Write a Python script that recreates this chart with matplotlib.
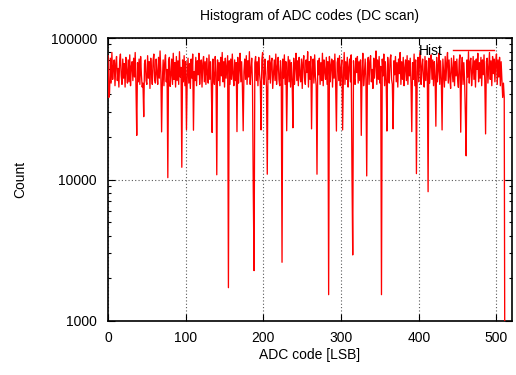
import matplotlib
matplotlib.use("Agg")
import matplotlib.pyplot as plt
from matplotlib.ticker import FixedLocator, LogLocator, NullFormatter

plt.rcParams['font.family'] = ['Liberation Sans', 'DejaVu Sans']
plt.rcParams['font.size'] = 10

title = "Histogram of ADC codes (DC scan)"
xlabel = "ADC code [LSB]"
ylabel = "Count"
series_name = "Hist"

codes = list(range(512))
counts = [
    75000, 38000, 41000, 72000, 48000, 79000, 51000, 63000, 70000, 46000, 66000, 74000, 50000, 61000, 45000, 69000,
    77000, 54000, 47000, 71000, 52000, 66000, 45000, 73000, 58000, 48000, 70000, 49000, 76000, 46000, 63000, 68000,
    50000, 72000, 53000, 79000, 46000, 20500, 67000, 49000, 71000, 47000, 74000, 55000, 45000, 48000, 27800, 66000,
    70000, 50000, 47000, 75000, 52000, 68000, 44000, 72000, 57000, 47000, 69000, 77000, 51000, 48000, 71000, 56000,
    47000, 73000, 52000, 81000, 58000, 21700, 50000, 70000, 46000, 67000, 76000, 49000, 60000, 10300, 69000, 73000,
    45500, 55000, 71000, 47000, 78000, 51000, 67000, 45000, 74000, 50000, 69000, 47000, 80000, 53000, 62000, 12200,
    70000, 49000, 75000, 46000, 68000, 22500, 54000, 72000, 48000, 66000, 44000, 71000, 52000, 77000, 22300, 58000,
    50000, 73000, 46000, 69000, 55000, 78000, 47000, 62000, 70000, 45000, 66000, 74000, 49000, 68000, 47000, 72000,
    56000, 48000, 76000, 51000, 68000, 46000, 21500, 71000, 52000, 47000, 74000, 57000, 10800, 70000, 50000, 67000,
    46000, 73000, 54000, 79000, 49000, 68000, 45000, 72000, 52000, 63000, 75000, 1720, 69000, 47000, 71000, 51000,
    77000, 55000, 46000, 70000, 50000, 67000, 21800, 73000, 48000, 60000, 78000, 49000, 68000, 45000, 22100, 58000,
    71000, 51000, 75000, 47000, 69000, 53000, 80000, 47000, 60000, 72000, 46000, 8300, 2270, 67000, 74000, 50000,
    68000, 46000, 73000, 56000, 49000, 22400, 70000, 79000, 52000, 47000, 71000, 58000, 45000, 10900, 69000, 51000,
    75000, 48000, 67000, 72000, 44000, 55000, 70000, 50000, 77000, 47000, 62000, 73000, 51000, 46000, 69000, 57000,
    2600, 71000, 52000, 76000, 47000, 68000, 22100, 54000, 74000, 49000, 70000, 45000, 67000, 51000, 23200, 72000,
    47000, 63000, 78000, 50000, 69000, 46000, 73000, 55000, 49000, 71000, 44000, 67000, 75000, 52000, 47000, 70000,
    57000, 80000, 45000, 68000, 51000, 74000, 22800, 60000, 71000, 48000, 76000, 53000, 46000, 10900, 69000, 55000,
    72000, 47000, 67000, 50000, 78000, 46000, 70000, 58000, 51000, 73000, 47000, 68000, 1535, 74000, 49000, 64000,
    71000, 45000, 69000, 52000, 77000, 48000, 22000, 67000, 72000, 50000, 75000, 46000, 61000, 70000, 22400, 54000,
    79000, 47000, 68000, 51000, 73000, 45000, 62000, 71000, 49000, 76000, 11700, 2930, 69000, 52000, 47000, 72000,
    57000, 74000, 48000, 68000, 50000, 70000, 20500, 59000, 78000, 46000, 55000, 71000, 51000, 10600, 67000, 73000,
    47000, 69000, 75000, 49000, 60000, 44000, 72000, 52000, 67000, 81000, 47000, 70000, 51000, 74000, 48000, 63000,
    1535, 71000, 54000, 77000, 46000, 68000, 50000, 22000, 73000, 57000, 48000, 70000, 76000, 51000, 47000, 22800,
    69000, 55000, 74000, 49000, 67000, 45000, 71000, 56000, 79000, 47000, 68000, 51000, 73000, 46000, 61000, 70000,
    50000, 75000, 47000, 69000, 54000, 72000, 48000, 21800, 67000, 51000, 77000, 46000, 70000, 11000, 58000, 73000,
    49000, 68000, 80000, 47000, 62000, 71000, 52000, 45000, 74000, 50000, 69000, 56000, 8200, 72000, 48000, 67000,
    76000, 51000, 70000, 46000, 68000, 54000, 23800, 73000, 49000, 60000, 78000, 47000, 69000, 52000, 22400, 71000,
    56000, 45000, 74000, 50000, 67000, 79000, 48000, 70000, 53000, 44000, 72000, 59000, 49000, 75000, 46000, 68000,
    54000, 71000, 51000, 44800, 69000, 76000, 21600, 58000, 73000, 47000, 67000, 50000, 28500, 14700, 70000, 53000,
    80000, 48000, 68000, 72000, 46000, 57000, 74000, 51000, 69000, 45000, 71000, 60000, 78000, 49000, 67000, 52000,
    73000, 46000, 70000, 55000, 76000, 50000, 21000, 68000, 72000, 48000, 62000, 79000, 51000, 69000, 46000, 74000,
    56000, 71000, 49000, 67000, 77000, 47000, 70000, 53000, 73000, 46000, 68000, 51000, 38000, 48000, 38000, 100,
]

xticks = [0, 100, 200, 300, 400, 500]
yticks = [1000, 10000, 100000]
ytick_labels = ["1000", "10000", "100000"]

fig = plt.figure(figsize=(5.16, 3.75), dpi=100)
ax = fig.add_axes([108/516, 1 - 321/375, (512-108)/516, (321-38)/375])

ax.plot(codes, counts, color='#ff0000', lw=0.95, label=series_name, zorder=3)

ax.set_yscale('log')
ax.set_xlim(0, 520)
ax.set_ylim(1000, 100000)
ax.xaxis.set_major_locator(FixedLocator(xticks))
ax.yaxis.set_major_locator(FixedLocator(yticks))
ax.set_yticklabels(ytick_labels)
ax.yaxis.set_minor_locator(LogLocator(base=10, subs=range(2, 10)))
ax.yaxis.set_minor_formatter(NullFormatter())

ax.tick_params(which='both', direction='in', top=True, right=True, colors='black')
ax.tick_params(which='major', length=5, width=0.8, pad=7, labelsize=10)
ax.tick_params(which='minor', length=2.5, width=0.8)
ax.tick_params(axis='y', pad=8)

for s in ax.spines.values():
    s.set_linewidth(1.2)

ax.grid(True, which='major', color='0.35', linestyle=(0, (1, 2)), linewidth=0.8, zorder=1)

ax.set_title(title, fontsize=10, pad=13)
ax.set_xlabel(xlabel, fontsize=10, labelpad=2)
ax.set_ylabel(ylabel, fontsize=10, labelpad=17)

leg = ax.legend(loc='upper right', frameon=False, markerfirst=False, handlelength=3.0,
                borderaxespad=0.0, bbox_to_anchor=(0.97, 1.0), fontsize=10, handletextpad=0.7)
for h in leg.get_lines():
    h.set_linewidth(1.0)

fig.savefig("out.png", dpi=100)
